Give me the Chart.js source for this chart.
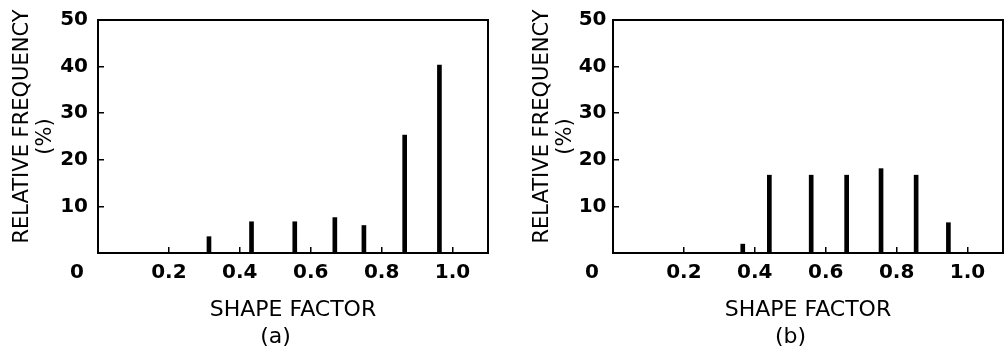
<!DOCTYPE html>
<html>
<head>
<meta charset="utf-8">
<script src="https://cdn.jsdelivr.net/npm/chart.js@4.4.1/dist/chart.umd.min.js"></script>
<style>
  body { margin: 0; background: #fff; }
  #panelA { position: absolute; left: 0; top: 0; }
  #panelB { position: absolute; left: 500px; top: 0; }
</style>
</head>
<body>
<canvas id="panelA" width="500" height="359"></canvas>
<canvas id="panelB" width="505" height="359"></canvas>
<script>
// Datos (a)
const factorA = [0.313, 0.433, 0.555, 0.668, 0.75, 0.865, 0.963];
const frecuenciaA = [3.5, 6.7, 6.7, 7.6, 5.9, 25.3, 40.3];

// Datos (b)
const factorB = [0.366, 0.441, 0.559, 0.659, 0.756, 0.855, 0.946];
const frecuenciaB = [1.9, 16.7, 16.7, 16.7, 18.1, 16.7, 6.5];

// Ejes
const pasoX = 0.2;
const pasoY = 10;
const maxX = 1.1;
const maxY = 50;

const familia = "'DejaVu Sans', sans-serif";

// Marco alrededor del area y la etiqueta "0" de la esquina
const marco = {
  id: "marco",
  afterDraw(chart) {
    const { ctx, chartArea } = chart;
    ctx.save();
    ctx.strokeStyle = "#000";
    ctx.lineWidth = 2;
    ctx.strokeRect(chartArea.left, chartArea.top, chartArea.right - chartArea.left, chartArea.bottom - chartArea.top);
    ctx.font = "bold 20px " + familia;
    ctx.fillStyle = "#000";
    ctx.textAlign = "center";
    ctx.textBaseline = "middle";
    ctx.fillText("0", chartArea.left - 21, chartArea.bottom + 20);
    ctx.restore();
  },
};

function crearPanel(idCanvas, factores, frecuencias, etiqueta, anchoEjeY, margenDerecho, padTituloY, padTicksY) {
  const puntos = factores.map((f, i) => ({ x: f, y: frecuencias[i] }));

  return new Chart(document.getElementById(idCanvas), {
    type: "bar",
    data: {
      datasets: [
        {
          data: puntos,
          backgroundColor: "#000",
          barThickness: 4,
        },
      ],
    },
    options: {
      responsive: false,
      animation: false,
      layout: { padding: { left: 0, right: margenDerecho, top: 20, bottom: 0 } },
      plugins: { legend: { display: false }, tooltip: { enabled: false } },
      scales: {
        x: {
          type: "linear",
          min: 0,
          max: maxX,
          offset: false,
          grid: { offset: false, drawOnChartArea: false, drawTicks: true, tickLength: -6, color: "#000", lineWidth: 1.5 },
          border: { display: false },
          ticks: {
            stepSize: pasoX,
            includeBounds: false,
            autoSkip: false,
            maxRotation: 0,
            padding: 14,
            color: "#000",
            font: { family: familia, size: 20, weight: "bold" },
            callback: (v) => (v === 0 ? "" : v.toFixed(1)),
          },
          title: {
            display: true,
            text: ["SHAPE FACTOR", etiqueta + "     "],
            color: "#000",
            font: { family: familia, size: 22, lineHeight: 1.227 },
            padding: { top: 0, bottom: 8.5 },
          },
          afterFit: (eje) => {
            eje.height = 106;
          },
        },
        y: {
          min: 0,
          max: maxY,
          grid: { drawOnChartArea: false, drawTicks: true, tickLength: -6, color: "#000", lineWidth: 1.5 },
          border: { display: false },
          ticks: {
            stepSize: pasoY,
            padding: padTicksY,
            color: "#000",
            // lineHeight bajo para que el margen superior quede en 20px
            font: { family: familia, size: 20, weight: "bold", lineHeight: 0.4 },
            callback: (v) => (v === 0 ? "" : v),
          },
          title: {
            display: true,
            text: ["   RELATIVE FREQUENCY", "(%)"],
            color: "#000",
            font: { family: familia, size: 21, lineHeight: 1.1 },
            padding: { top: padTituloY, bottom: 0 },
          },
          afterFit: (eje) => {
            eje.width = anchoEjeY;
          },
        },
      },
    },
    plugins: [marco],
  });
}

crearPanel("panelA", factorA, frecuenciaA, "(a)", 98, 12, 10.5, 16);
crearPanel("panelB", factorB, frecuenciaB, "(b)", 113, 2, 30.5, 12.5);
</script>
</body>
</html>
